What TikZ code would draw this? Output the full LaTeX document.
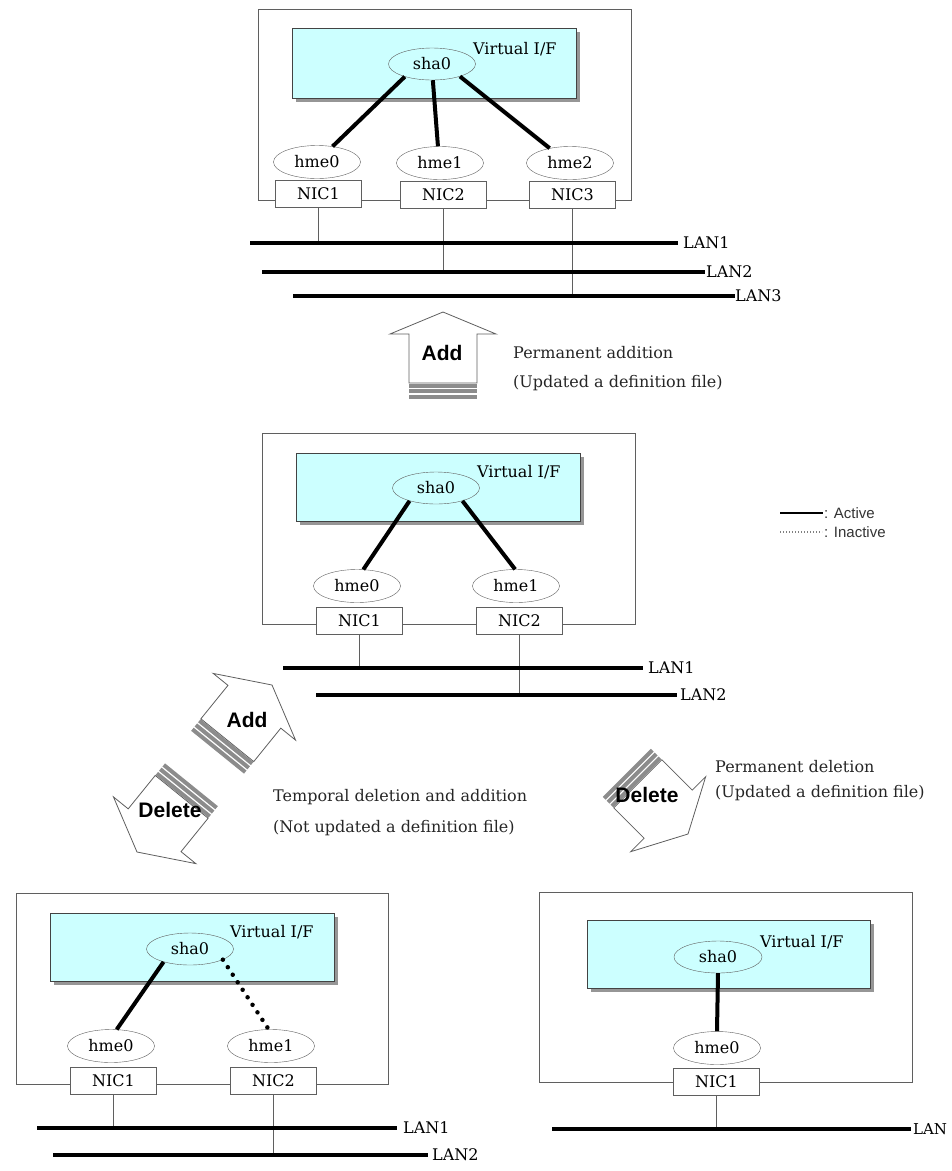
\documentclass[tikz,border=0pt]{standalone}
\usepackage{fontspec}
\setmainfont{DejaVu Serif}
\newfontfamily\legsans{Liberation Sans}
\usetikzlibrary{shapes.geometric}
\definecolor{vifblue}{RGB}{204,255,255}
\definecolor{edgegray}{RGB}{95,95,95}
\definecolor{shadowgray}{RGB}{150,150,150}
\definecolor{stripegray}{RGB}{140,140,140}
\tikzset{
  lbl/.style={font=\fontsize{16}{18}\selectfont, inner sep=0pt},
  outerbox/.style={draw=edgegray, line width=0.8pt},
  vbox/.style={draw=edgegray!70!black, fill=vifblue, line width=0.8pt},
  vshadow/.style={fill=shadowgray},
  shanode/.style={ellipse, draw=edgegray, fill=vifblue, minimum width=87pt, minimum height=32pt, inner sep=0pt, lbl},
  hmenode/.style={ellipse, draw=edgegray, fill=white, minimum width=87pt, minimum height=33pt, inner sep=0pt, lbl},
  nicnode/.style={rectangle, draw=edgegray, fill=white, minimum width=86pt, minimum height=27pt, inner sep=0pt, lbl},
  active/.style={line width=4pt, black},
  inactive/.style={line width=4.5pt, black, dash pattern=on 0pt off 9pt, line cap=round},
  lan/.style={line width=4pt, black},
  drop/.style={draw=edgegray, line width=0.8pt},
  lanlabel/.style={lbl, anchor=west},
  desc/.style={font=\fontsize{16}{18}\selectfont, anchor=west, inner sep=0pt, text=black!85},
  opname/.style={font=\legsans\bfseries\fontsize{21}{24}\selectfont, inner sep=0pt},
  legendtext/.style={font=\legsans\fontsize{15}{17}\selectfont, anchor=west, inner sep=0pt, text=black!80},
  pics/bigarrow/.style={code={
    \draw[draw=edgegray, fill=white, line width=0.8pt, line join=miter]
      (0,0) -- (53,#1) -- (34,#1) -- (34,71) -- (-34,71) -- (-34,#1) -- (-53,#1) -- cycle;
    \fill[stripegray] (-34,71.5) rectangle (34,75.5);
    \fill[stripegray] (-34,77) rectangle (34,81);
    \fill[stripegray] (-34,82.5) rectangle (34,86.5);
  }},
}
\begin{document}
\begin{tikzpicture}[x=1pt,y=-1pt]
\useasboundingbox (0,0) rectangle (952,1171);

% ================= TOP =================
\draw[outerbox] (258,9) rectangle (631,200);
\fill[vshadow] (296,32) rectangle (580,102);
\draw[vbox] (292,28) rectangle (576,98);
\node[lbl, anchor=west] (tvif) at (473,49) {Virtual I/F};
\node[shanode] (tsha) at (432,64) {sha0};
\node[hmenode] (th0) at (317,162) {hme0};
\node[hmenode] (th1) at (440,163) {hme1};
\node[hmenode] (th2) at (570,163) {hme2};
\node[nicnode] (tn1) at (318.5,193.5) {NIC1};
\node[nicnode] (tn2) at (443.5,195) {NIC2};
\node[nicnode] (tn3) at (572.5,195) {NIC3};
\draw[active] (tsha.-155) -- (th0.45);
\draw[active] (tsha.-87) -- (th1.97);
\draw[active] (tsha.-24) -- (th2.144);
\coordinate (tl1a) at (250,243); \coordinate (tl1b) at (678,243);
\coordinate (tl2a) at (262,272); \coordinate (tl2b) at (705,272);
\coordinate (tl3a) at (293,296); \coordinate (tl3b) at (735,296);
\draw[drop] (tn1.south) -- (tn1.south |- tl1a);
\draw[drop] (tn2.south) -- (tn2.south |- tl2a);
\draw[drop] (tn3.south) -- (tn3.south |- tl3a);
\draw[lan] (tl1a) -- (tl1b);
\draw[lan] (tl2a) -- (tl2b);
\draw[lan] (tl3a) -- (tl3b);
\node[lanlabel] (tlan1) at ([xshift=5pt]tl1b) {LAN1};
\node[lanlabel] (tlan2) at ([xshift=1pt]tl2b) {LAN2};
\node[lanlabel] (tlan3) at ([xshift=0pt]tl3b) {LAN3};

% ================= ADD (vertical) =================
\pic at (443,312) {bigarrow=22};
\node[opname] (addtop) at (442,353) {Add};
\node[desc] (d1a) at (513,353) {Permanent addition};
\node[desc] (d1b) at (513,383) {(Updated a definition file)};

% ================= MIDDLE =================
\draw[outerbox] (262,433) rectangle (635,624);
\fill[vshadow] (300,457) rectangle (584,525);
\draw[vbox] (296,453) rectangle (580,521);
\node[lbl, anchor=west] (mvif) at (477,472) {Virtual I/F};
\node[shanode] (msha) at (436,488) {sha0};
\node[hmenode] (mh0) at (357,586) {hme0};
\node[hmenode] (mh1) at (516,586) {hme1};
\node[nicnode] (mn1) at (359.5,620.5) {NIC1};
\node[nicnode] (mn2) at (519.5,620.5) {NIC2};
\draw[active] (msha.-154) -- (mh0.69);
\draw[active] (msha.-26) -- (mh1.93);
\coordinate (ml1a) at (283,668); \coordinate (ml1b) at (643,668);
\coordinate (ml2a) at (316,695); \coordinate (ml2b) at (677,695);
\draw[drop] (mn1.south) -- (mn1.south |- ml1a);
\draw[drop] (mn2.south) -- (mn2.south |- ml2a);
\draw[lan] (ml1a) -- (ml1b);
\draw[lan] (ml2a) -- (ml2b);
\node[lanlabel] (mlan1) at ([xshift=5pt]ml1b) {LAN1};
\node[lanlabel] (mlan2) at ([xshift=3pt]ml2b) {LAN2};

% ================= LEGEND =================
\coordinate (lega) at (780,513); \coordinate (legb) at (823,513);
\coordinate (legc) at (780,532); \coordinate (legd) at (822,532);
\draw[line width=2pt] (lega) -- (legb);
\draw[line width=1.2pt, gray, dash pattern=on 1.2pt off 1.8pt] (legc) -- (legd);
\node[legendtext] (legact) at ([xshift=1pt]legb) {: Active};
\node[legendtext] (leginact) at ([xshift=2pt]legd) {: Inactive};

% ================= DIAGONAL ARROWS =================
\pic[rotate=-39] at (272,685) {bigarrow=28};
\pic[rotate=141] at (137,852) {bigarrow=28};
\node[opname] (adddiag) at (247,720) {Add};
\node[opname] (deldiag) at (170,810) {Delete};
\node[desc] (d2a) at (273,797) {Temporal deletion and addition};
\node[desc] (d2b) at (273,828) {(Not updated a definition file)};

\pic[rotate=-135] at (688,834) {bigarrow=28};
\node[opname] (delright) at (647,795) {Delete};
\node[desc] (d3a) at (715,767) {Permanent deletion};
\node[desc] (d3b) at (715,793) {(Updated a definition file)};

% ================= BOTTOM LEFT =================
\draw[outerbox] (16,893) rectangle (388,1084);
\fill[vshadow] (54,917) rectangle (338,985);
\draw[vbox] (50,913) rectangle (334,981);
\node[lbl, anchor=west] (lvif) at (230,932) {Virtual I/F};
\node[shanode] (lsha) at (190,949) {sha0};
\node[hmenode] (lh0) at (111,1046) {hme0};
\node[hmenode] (lh1) at (271,1046) {hme1};
\node[nicnode] (ln1) at (113.5,1080.5) {NIC1};
\node[nicnode] (ln2) at (273.5,1080.5) {NIC2};
\draw[active] (lsha.-154) -- (lh0.71);
\draw[inactive] (lsha.-18) -- (lh1.98);
\coordinate (ll1a) at (37,1128); \coordinate (ll1b) at (397,1128);
\coordinate (ll2a) at (53,1155); \coordinate (ll2b) at (428,1155);
\draw[drop] (ln1.south) -- (ln1.south |- ll1a);
\draw[drop] (ln2.south) -- (ln2.south |- ll2a);
\draw[lan] (ll1a) -- (ll1b);
\draw[lan] (ll2a) -- (ll2b);
\node[lanlabel] (llan1) at ([xshift=6pt]ll1b) {LAN1};
\node[lanlabel] (llan2) at ([xshift=4pt]ll2b) {LAN2};

% ================= BOTTOM RIGHT =================
\draw[outerbox] (539,892) rectangle (912,1082);
\fill[vshadow] (591,924) rectangle (874,992);
\draw[vbox] (587,920) rectangle (870,988);
\node[lbl, anchor=west] (rvif) at (760,942) {Virtual I/F};
\node[shanode, minimum width=88pt] (rsha) at (718,957) {sha0};
\node[hmenode] (rh0) at (717,1048) {hme0};
\node[nicnode] (rn1) at (716.5,1082) {NIC1};
\draw[active] (rsha.south) -- (rh0.north);
\coordinate (rl1a) at (552,1129); \coordinate (rl1b) at (911,1129);
\draw[drop] (rn1.south) -- (rn1.south |- rl1a);
\draw[lan] (rl1a) -- (rl1b);
\node[lanlabel, font=\fontsize{15}{17}\selectfont] (rlan1) at ([xshift=2pt]rl1b) {LAN};
\end{tikzpicture}
\end{document}
